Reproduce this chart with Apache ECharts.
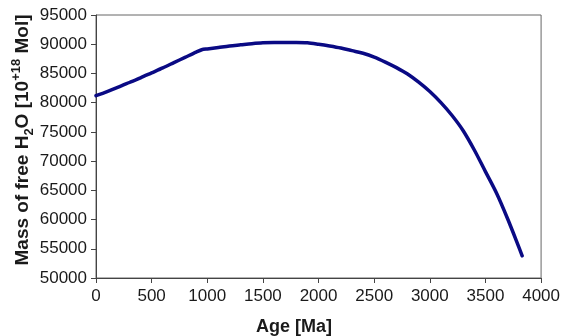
<!DOCTYPE html>
<html>
<head>
<meta charset="utf-8">
<script src="https://cdn.jsdelivr.net/npm/echarts@6/dist/echarts.min.js"></script>
<style>
  html, body { margin: 0; padding: 0; background: #fff; }
  #chart { width: 563px; height: 336px; }
</style>
</head>
<body>
<div id="chart"></div>
<script>
// Age in millions of years before present
const ages = [0, 100, 200, 300, 400, 500, 600, 700, 800, 900, 950, 1000, 1100, 1200, 1300, 1400,
  1500, 1600, 1700, 1800, 1900, 2000, 2100, 2200, 2300, 2400, 2500, 2600, 2700, 2800, 2900,
  3000, 3100, 3200, 3300, 3400, 3500, 3600, 3700, 3800, 3830];
// Mass of free water, 10^18 mol
const freeWater = [81200, 81900, 82650, 83450, 84250, 85100, 85950, 86850, 87750, 88650, 89050,
  89200, 89450, 89700, 89900, 90100, 90250, 90300, 90300, 90300, 90250, 90000, 89700, 89350,
  88900, 88450, 87800, 86950, 86000, 84900, 83500, 81900, 80000, 77800, 75200, 71900, 68200,
  64500, 60100, 55300, 53800];

const xTicks = { min: 0, max: 4000, step: 500 };
const yTicks = { min: 50000, max: 95000, step: 5000 };

const chart = echarts.init(document.getElementById('chart'));
const fontFamily = '"Liberation Sans", Arial, sans-serif';
const axisFont = { fontFamily: fontFamily, fontSize: 17, color: '#1a1a1a' };

chart.setOption({
  animation: false,
  grid: { left: 96, right: 21, top: 15, bottom: 58, show: true, borderColor: '#666', borderWidth: 1, backgroundColor: '#fff' },
  xAxis: {
    type: 'value', min: xTicks.min, max: xTicks.max, interval: xTicks.step,
    axisLine: { show: true, lineStyle: { color: '#444', width: 1 } },
    axisTick: { show: true, length: 5, lineStyle: { color: '#444' } },
    splitLine: { show: false },
    axisLabel: Object.assign({ margin: 10, formatter: v => String(v) }, axisFont)
  },
  yAxis: {
    type: 'value', min: yTicks.min, max: yTicks.max, interval: yTicks.step,
    axisLine: { show: true, lineStyle: { color: '#444', width: 1 } },
    axisTick: { show: true, length: 5, lineStyle: { color: '#444' } },
    splitLine: { show: false },
    axisLabel: Object.assign({ margin: 9, formatter: v => String(v) }, axisFont)
  },
  graphic: [
    {
      type: 'text', x: 294, y: 327,
      style: { text: 'Age [Ma]', font: 'bold 18px ' + fontFamily, fill: '#1a1a1a', align: 'center', verticalAlign: 'middle' }
    },
    {
      type: 'text', x: 21, y: 140, rotation: Math.PI / 2,
      style: {
        text: '{t|Mass of free H}{sub|2}{t|O [10}{sup|+18}{t| Mol]}',
        align: 'center', verticalAlign: 'middle',
        rich: {
          t: { font: 'bold 19px ' + fontFamily, fill: '#1a1a1a', verticalAlign: 'bottom', lineHeight: 22 },
          sub: { font: 'bold 13px ' + fontFamily, fill: '#1a1a1a', verticalAlign: 'bottom', lineHeight: 14, padding: [0, 0, -4, 0] },
          sup: { font: 'bold 13px ' + fontFamily, fill: '#1a1a1a', verticalAlign: 'top', lineHeight: 14, padding: [0, 0, 7, 0] }
        }
      }
    }
  ],
  series: [{
    type: 'line',
    data: ages.map((a, i) => [a, freeWater[i]]),
    showSymbol: false,
    smooth: 0.3,
    lineStyle: { color: '#0a0a84', width: 3.5, join: 'round', cap: 'round' }
  }]
});
</script>
</body>
</html>
